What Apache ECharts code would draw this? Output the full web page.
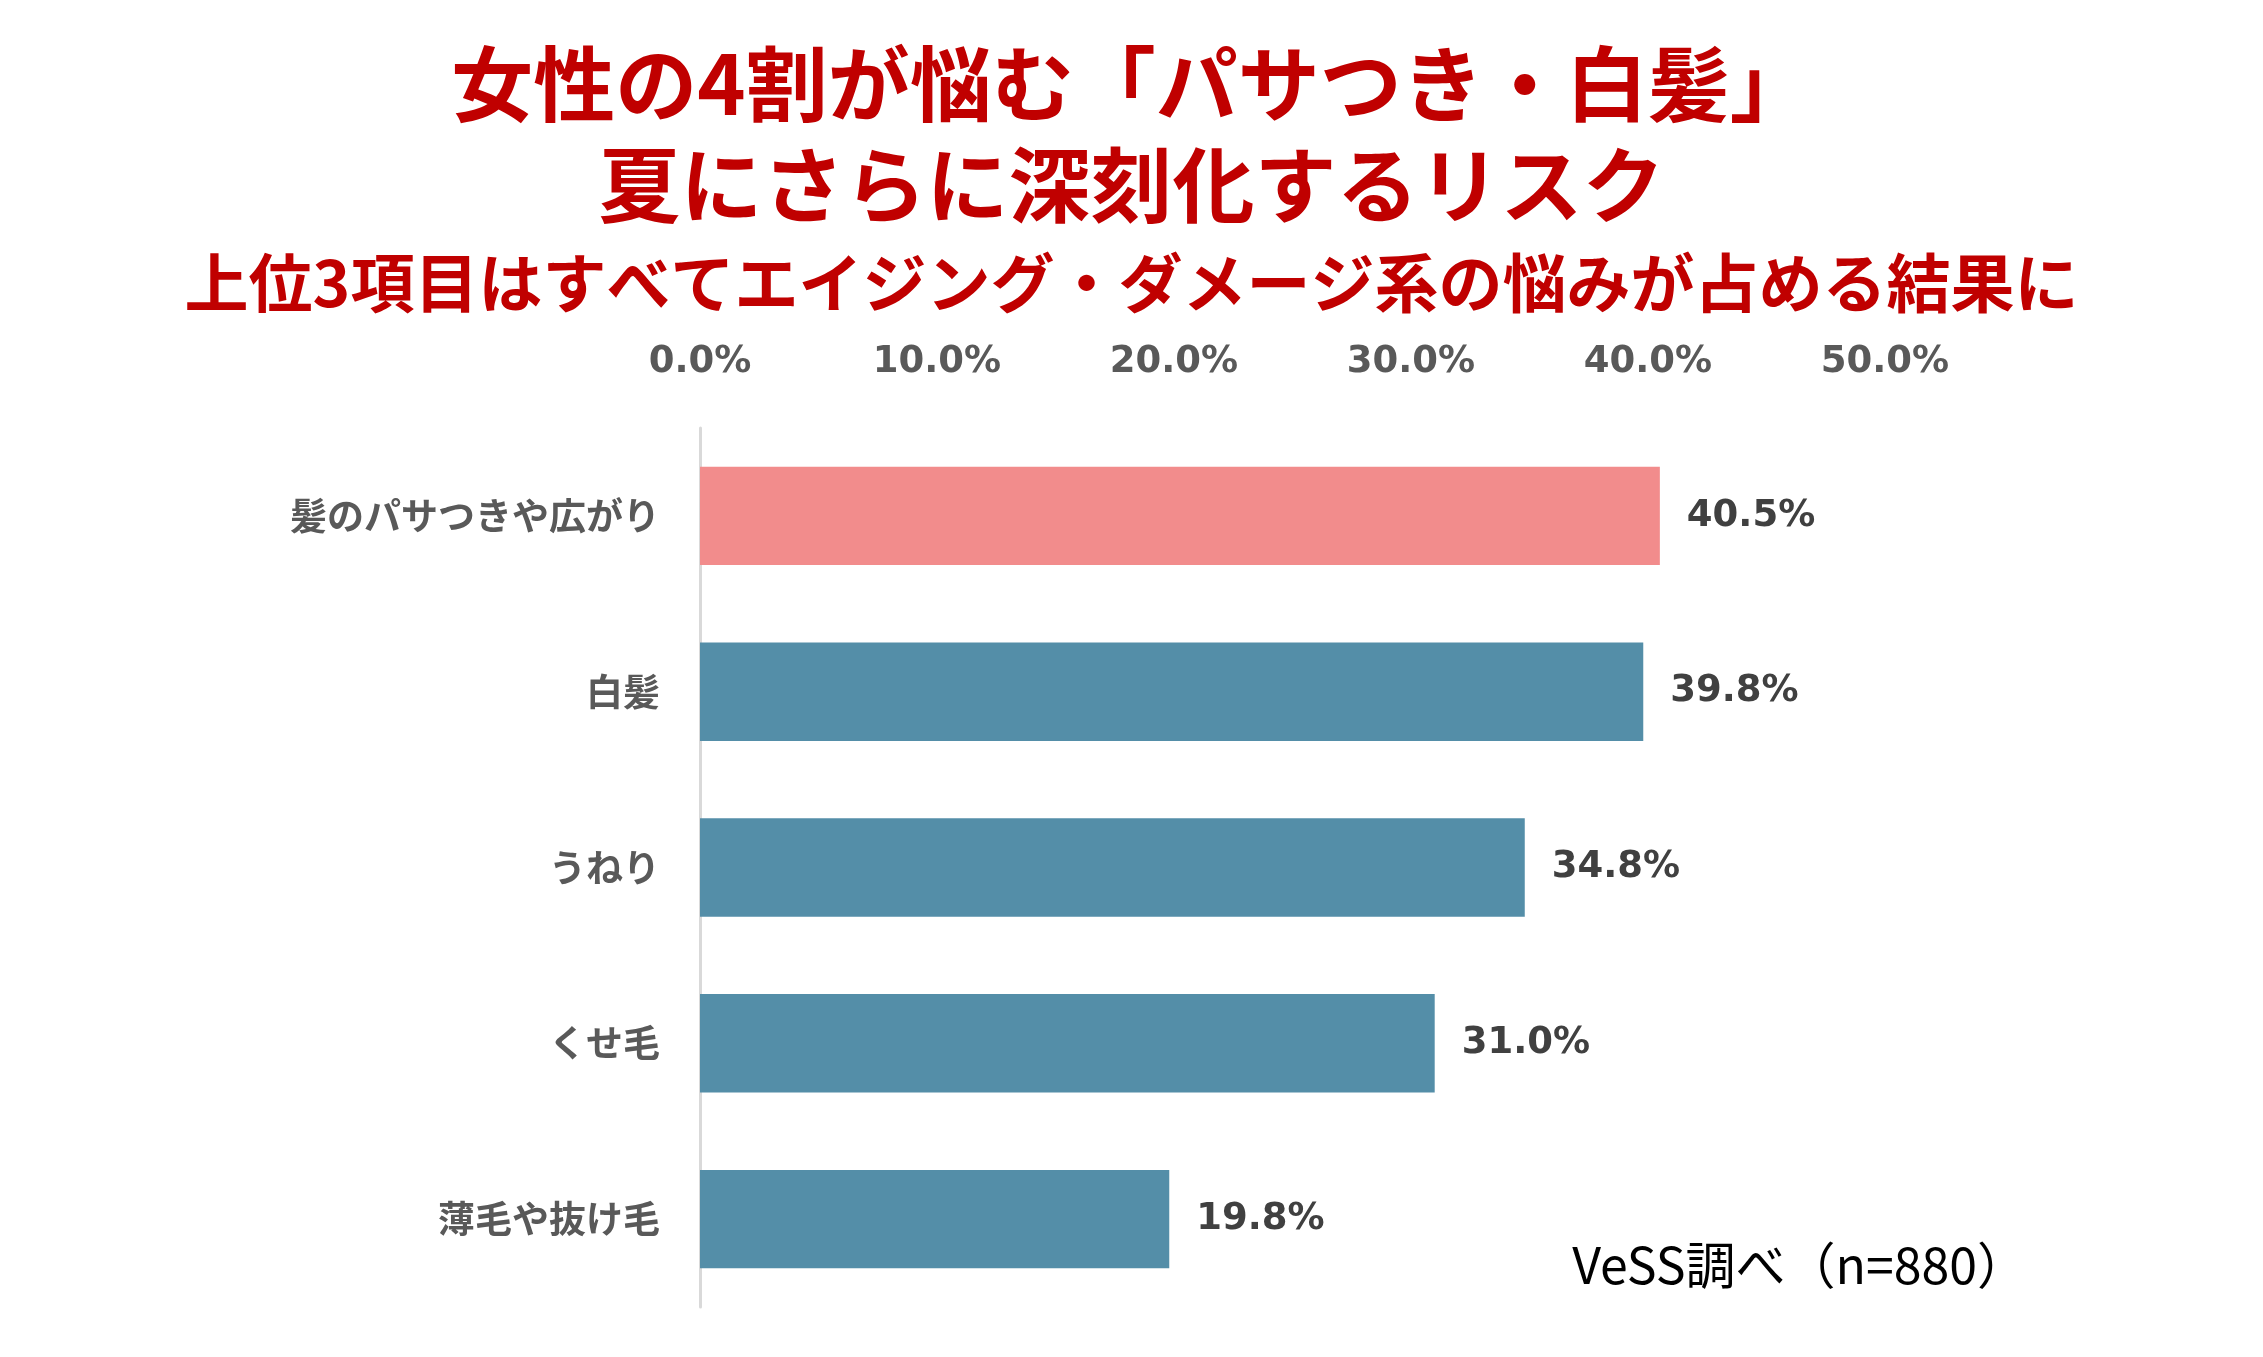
<!DOCTYPE html>
<html style="height: 100%;width: 100%">
<head>
    <meta charset="utf-8">
    <script src="https://cdn.jsdelivr.net/npm/echarts@6/dist/echarts.min.js"></script>
    <style>
        html, body { margin: 0; padding: 0; background: #ffffff; }
        #container { width: 2263px; height: 1357px; }
    </style>
</head>
<body>
<div id="container"></div>
<script type="text/javascript">
// data
var categories = ['髪のパサつきや広がり', '白髪', 'うねり', 'くせ毛', '薄毛や抜け毛'];
var values = [40.5, 39.8, 34.8, 31.0, 19.8];
var titleLines = [
    '女性の4割が悩む「パサつき・白髪」',
    '夏にさらに深刻化するリスク',
    '上位3項目はすべてエイジング・ダメージ系の悩みが占める結果に'
];
var sourceNote = 'VeSS調べ（n=880）';

var jpFont = '"Noto Sans CJK JP", "Noto Sans", sans-serif';
var numFont = '"DejaVu Sans", Verdana, sans-serif';

var dom = document.getElementById('container');
var myChart = echarts.init(dom);

var option = {
    backgroundColor: '#ffffff',
    animation: false,
    title: [
        {
            text: titleLines[0], left: 'center', top: 38,
            textStyle: { fontFamily: jpFont, fontSize: 82, fontWeight: 'bold', color: '#C00000' }
        },
        {
            text: titleLines[1], left: 'center', top: 139,
            textStyle: { fontFamily: jpFont, fontSize: 82, fontWeight: 'bold', color: '#C00000' }
        },
        {
            text: titleLines[2], left: 'center', top: 246,
            textStyle: { fontFamily: jpFont, fontSize: 64, fontWeight: 'bold', color: '#C00000' }
        }
    ],
    grid: {
        left: 700,
        right: 378,
        top: 428,
        bottom: 50,
        containLabel: false
    },
    xAxis: {
        type: 'value',
        position: 'top',
        min: 0,
        max: 50,
        interval: 10,
        axisLine: { show: false },
        axisTick: { show: false },
        splitLine: { show: false },
        axisLabel: {
            margin: 47,
            fontFamily: numFont,
            fontSize: 37,
            fontWeight: 'bold',
            color: '#595959',
            formatter: function (v) { return v.toFixed(1) + '%'; }
        }
    },
    yAxis: {
        type: 'category',
        inverse: true,
        data: categories,
        axisLine: { show: true, lineStyle: { color: '#d9d9d9', width: 3 } },
        axisTick: { show: false },
        axisLabel: {
            margin: 40,
            padding: [0, 0, 14, 0],
            fontFamily: jpFont,
            fontSize: 37,
            fontWeight: 'bold',
            color: '#595959'
        }
    },
    series: [{
        type: 'bar',
        data: values,
        barCategoryGap: '44%',
        itemStyle: {
            color: function (p) { return p.dataIndex === 0 ? '#F28C8C' : '#548EA8'; }
        },
        label: {
            show: true,
            position: 'right',
            distance: 27,
            fontFamily: numFont,
            fontSize: 37,
            fontWeight: 'bold',
            color: '#404040',
            formatter: function (p) { return p.value.toFixed(1) + '%'; }
        }
    }],
    graphic: [{
        type: 'text',
        right: 236,
        top: 1240,
        style: {
            text: sourceNote,
            fontFamily: jpFont,
            fontSize: 50,
            fill: '#000000'
        }
    }]
};

myChart.setOption(option);
</script>
</body>
</html>
